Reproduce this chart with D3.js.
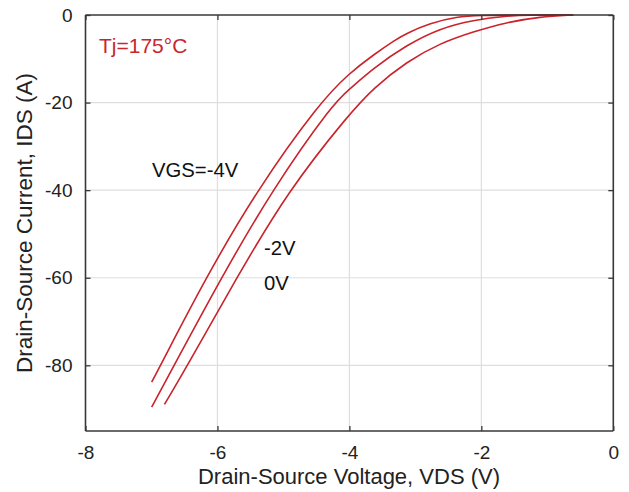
<!DOCTYPE html>
<html>
<head>
<meta charset="utf-8">
<script src="https://cdn.jsdelivr.net/npm/d3@7"></script>
<style>
  html, body { margin: 0; padding: 0; background: #fff; }
  svg { display: block; }
  text { font-family: "Liberation Sans", Arial, Helvetica, sans-serif; }
</style>
</head>
<body>
<svg id="chart" width="629" height="492"></svg>
<script>
// ---- data ----
const xTicks = [-8, -6, -4, -2, 0];
const yTicks = [-80, -60, -40, -20, 0];

// [VDS (V), IDS (A)]
const curveVgsNeg4 = [
  [-6.997, -83.85], [-6.863, -80.0], [-6.178, -60.05], [-5.405, -40.07],
  [-4.446, -19.91], [-4.002, -13.30], [-3.638, -9.12], [-3.309, -5.70],
  [-3.132, -4.17], [-2.779, -1.89], [-2.374, -0.39], [-2.021, -0.05],
  [-1.415, 0], [-0.607, 0]
];
const curveVgsNeg2 = [
  [-6.997, -89.55], [-6.656, -80.0], [-5.943, -60.05], [-5.178, -40.07],
  [-4.234, -19.91], [-4.002, -17.01], [-3.638, -12.15], [-3.132, -6.84],
  [-2.627, -3.03], [-2.122, -1.14], [-1.616, -0.23], [-1.313, -0.02],
  [-0.607, 0]
];
const curveVgs0 = [
  [-6.803, -88.94], [-6.454, -80.0], [-5.711, -60.05], [-4.926, -40.07],
  [-4.002, -22.58], [-3.638, -16.72], [-3.132, -10.65], [-2.627, -6.45],
  [-2.122, -3.81], [-1.616, -1.66], [-1.111, -0.39], [-0.607, 0]
];
const curves = [curveVgsNeg4, curveVgsNeg2, curveVgs0];

const labels = [
  { text: "VGS=-4V", v: -6.992, i: -36.94 },
  { text: "-2V", v: -5.295, i: -54.9 },
  { text: "0V", v: -5.295, i: -62.9 }
];
const tempLabel = "Tj=175\u00B0C";
const xTitle = "Drain-Source Voltage, VDS (V)";
const yTitle = "Drain-Source Current, IDS (A)";

// ---- layout ----
const svg = d3.select("#chart");
const mLeft = 85.5, mRight = 613.3, mTop = 15, mBottom = 431;

const x = d3.scaleLinear().domain([-8, 0]).range([mLeft, mRight]);
const y = d3.scaleLinear().domain([-95, 0]).range([mBottom, mTop]);

const gridColor = "#dedede";
const axisColor = "#383838";

// grid
svg.append("g").selectAll("line").data(xTicks.slice(1, -1)).join("line")
  .attr("x1", d => x(d)).attr("x2", d => x(d))
  .attr("y1", mTop).attr("y2", mBottom)
  .attr("stroke", gridColor).attr("stroke-width", 1.2);
svg.append("g").selectAll("line").data(yTicks.slice(0, -1)).join("line")
  .attr("x1", mLeft).attr("x2", mRight)
  .attr("y1", d => y(d)).attr("y2", d => y(d))
  .attr("stroke", gridColor).attr("stroke-width", 1.2);

// curves
const line = d3.line().x(d => x(d[0])).y(d => y(d[1])).curve(d3.curveBasis);
svg.append("g").selectAll("path").data(curves).join("path")
  .attr("d", line)
  .attr("fill", "none")
  .attr("stroke", "#c9232b")
  .attr("stroke-width", 1.6);

// axes (inward ticks, box)
const fontSize = 19;
const fmt = d => String(d);
const xAxis = svg.append("g").attr("transform", `translate(0,${mBottom})`)
  .call(d3.axisBottom(x).tickValues(xTicks).tickSize(-5).tickPadding(14.5).tickFormat(fmt));
const yAxis = svg.append("g").attr("transform", `translate(${mLeft},0)`)
  .call(d3.axisLeft(y).tickValues(yTicks).tickSize(-5).tickPadding(13).tickFormat(fmt));
const xTop = svg.append("g").attr("transform", `translate(0,${mTop})`)
  .call(d3.axisTop(x).tickValues(xTicks).tickSize(-5).tickFormat(""));
const yRight = svg.append("g").attr("transform", `translate(${mRight},0)`)
  .call(d3.axisRight(y).tickValues(yTicks).tickSize(-5).tickFormat(""));

[xAxis, yAxis, xTop, yRight].forEach(g => {
  g.select(".domain").attr("stroke", axisColor).attr("stroke-width", 1.6);
  g.selectAll(".tick line").attr("stroke", axisColor).attr("stroke-width", 1.3);
  g.selectAll(".tick text").attr("fill", "#222").attr("font-size", fontSize)
    .attr("font-family", "'Liberation Sans', Arial, sans-serif");
});
xAxis.select(".domain").attr("d", `M${mLeft},0H${mRight}`);
xTop.select(".domain").attr("d", `M${mLeft},0H${mRight}`);
yAxis.select(".domain").attr("d", `M0,${mTop}V${mBottom}`);
yRight.select(".domain").attr("d", `M0,${mTop}V${mBottom}`);

// axis titles
svg.append("text")
  .attr("x", 349).attr("y", 484)
  .attr("text-anchor", "middle").attr("font-size", 22).attr("fill", "#222")
  .text(xTitle);
svg.append("text")
  .attr("transform", `translate(32,${(mTop + mBottom) / 2}) rotate(-90)`)
  .attr("text-anchor", "middle").attr("font-size", 22.5).attr("fill", "#222")
  .text(yTitle);

// annotations
svg.append("text")
  .attr("x", 99).attr("y", 52.5)
  .attr("font-size", 21).attr("fill", "#c8262c")
  .text(tempLabel);
svg.selectAll("text.lbl").data(labels).join("text")
  .attr("class", "lbl")
  .attr("x", d => x(d.v)).attr("y", d => y(d.i))
  .attr("font-size", 20.3).attr("fill", "#111")
  .text(d => d.text);
</script>
</body>
</html>
